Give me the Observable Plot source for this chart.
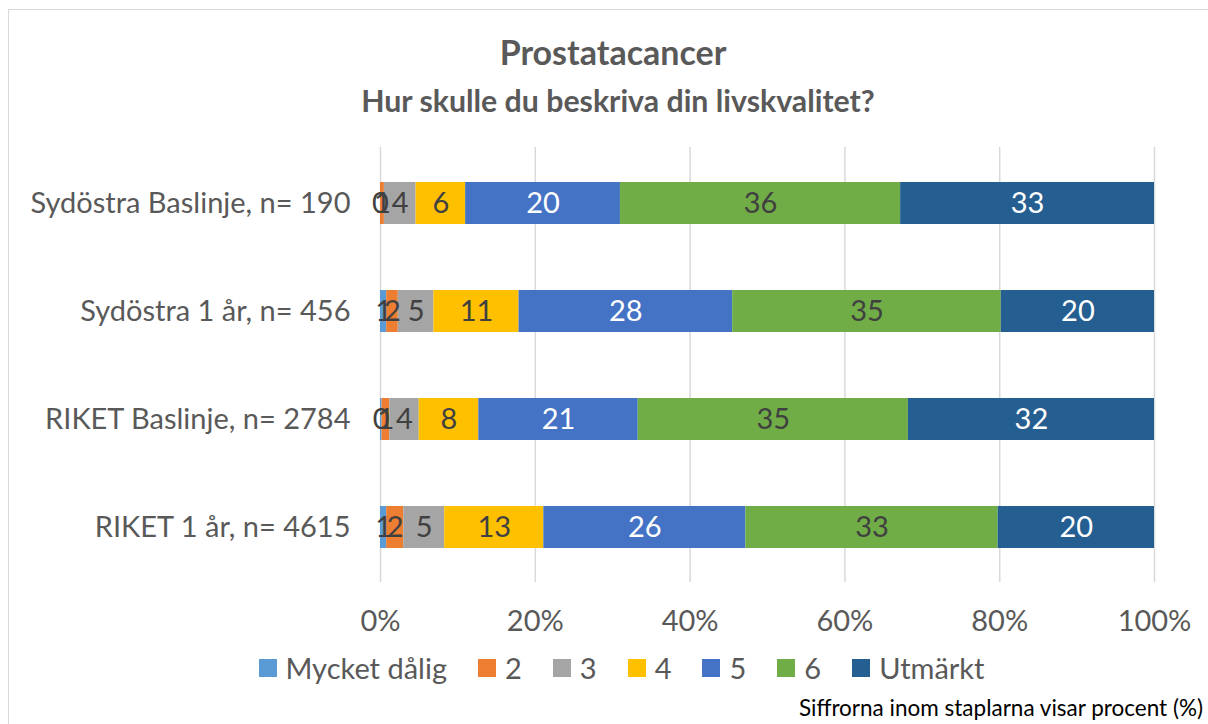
<!DOCTYPE html>
<html>
<head>
<meta charset="utf-8">
<script src="https://cdn.jsdelivr.net/npm/d3@7"></script>
<script src="https://cdn.jsdelivr.net/npm/@observablehq/plot@0.6"></script>
<style>
  html, body { margin: 0; padding: 0; background: #fff; overflow: hidden; width: 1208px; height: 724px; }
  body { position: relative; font-family: Lato, "Open Sans", sans-serif; color: #595959; }
  #frame { position: absolute; left: 8px; top: 9px; width: 1230px; height: 740px; border: 1.5px solid #d9d9d9; box-sizing: border-box; }
  #title { position: absolute; left: 0; top: 30px; width: 1226px; text-align: center; font-weight: 700; font-size: 34px; color: #595959; line-height: 44px; }
  #subtitle { position: absolute; left: 0; top: 81px; width: 1236px; text-align: center; font-weight: 700; font-size: 30.3px; color: #595959; line-height: 38px; }
  #chart { position: absolute; left: 0; top: 130px; }
  #legend { position: absolute; left: 0; top: 649px; width: 1243px; display: flex; justify-content: center; align-items: center; font-size: 29px; color: #595959; line-height: 38px; }
  #legend .item { display: flex; align-items: center; margin: 0 15.5px; }
  #legend .sw { width: 18px; height: 18px; margin-right: 9px; }
  #caption { position: absolute; right: 5px; top: 694px; font-size: 22.5px; color: #000; line-height: 28px; }
</style>
</head>
<body>
<div id="frame"></div>
<div id="title">Prostatacancer</div>
<div id="subtitle">Hur skulle du beskriva din livskvalitet?</div>
<div id="chart"></div>
<div id="legend"></div>
<div id="caption">Siffrorna inom staplarna visar procent (%)</div>
<script>
// ---- Data (percent) ----
const rows = ["Sydöstra Baslinje, n= 190", "Sydöstra 1 år, n= 456", "RIKET Baslinje, n= 2784", "RIKET 1 år, n= 4615"];
const categories = ["Mycket dålig", "2", "3", "4", "5", "6", "Utmärkt"];
const colors = ["#5B9BD5", "#ED7D31", "#A5A5A5", "#FFC000", "#4472C4", "#70AD47", "#255E91"];
const darkCategories = ["5", "Utmärkt"];

const mycketDalig = [0.0, 0.8, 0.2, 0.8];
const val2 = [0.5, 1.5, 1.0, 2.2];
const val3 = [4.1, 4.6, 3.8, 5.3];
const val4 = [6.4, 11.0, 7.7, 12.8];
const val5 = [20.0, 27.6, 20.6, 26.1];
const val6 = [36.2, 34.7, 34.9, 32.6];
const utmarkt = [32.8, 19.8, 31.8, 20.2];
const xTicks = [0, 20, 40, 60, 80, 100];

const series = [mycketDalig, val2, val3, val4, val5, val6, utmarkt];
const data = [];
categories.forEach((cat, ci) => {
  rows.forEach((row, ri) => {
    data.push({row, cat, value: series[ci][ri]});
  });
});

const stackOpts = {x: "value", y: "row", z: "cat", order: categories};
const labelText = d => String(Math.round(d.value));

const chart = Plot.plot({
  width: 1208,
  height: 520,
  marginTop: 17,
  marginBottom: 68,
  marginLeft: 380,
  marginRight: 54,
  style: {fontFamily: "Lato, 'Open Sans', sans-serif", background: "transparent"},
  x: {domain: [0, 100], ticks: xTicks, tickFormat: d => d + "%", label: null},
  y: {domain: rows, paddingInner: 0.614, paddingOuter: 0.307, label: null},
  color: {domain: categories, range: colors},
  marks: [
    Plot.gridX(xTicks, {stroke: "#d9d9d9", strokeOpacity: 1, strokeWidth: 1.5}),
    Plot.barX(data, Plot.stackX({...stackOpts, fill: "cat"})),
    Plot.textX(data, Plot.filter(d => !darkCategories.includes(d.cat), Plot.stackX({...stackOpts, text: labelText, fill: "#404040", fontSize: 29}))),
    Plot.textX(data, Plot.filter(d => darkCategories.includes(d.cat), Plot.stackX({...stackOpts, text: labelText, fill: "white", fontSize: 29}))),
    Plot.axisX({ticks: xTicks, tickFormat: d => d + "%", tickSize: 0, tickPadding: 28, fontSize: 29, color: "#595959", label: null}),
    Plot.axisY({tickSize: 0, tickPadding: 30, fontSize: 29, color: "#595959", label: null})
  ]
});
document.getElementById("chart").appendChild(chart);

// Legend
const legend = document.getElementById("legend");
categories.forEach((cat, i) => {
  const item = document.createElement("div");
  item.className = "item";
  const sw = document.createElement("div");
  sw.className = "sw";
  sw.style.background = colors[i];
  const t = document.createElement("span");
  t.textContent = cat;
  item.appendChild(sw);
  item.appendChild(t);
  legend.appendChild(item);
});
</script>
</body>
</html>
